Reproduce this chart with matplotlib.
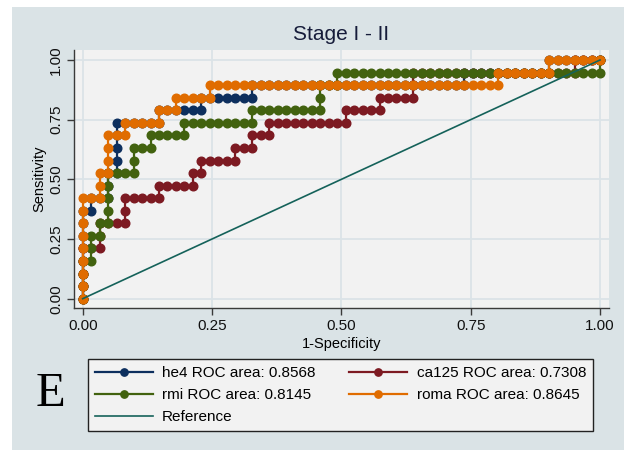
import matplotlib
matplotlib.use("Agg")
import matplotlib.pyplot as plt
from matplotlib.patches import Rectangle
import numpy as np

# ROC curves: 19 cases, 61 controls.
# Each curve is written as runs of cutoffs: "nU" = n more cases detected,
# "nR" = n more controls called positive (one point per cutoff).
n_cases = 19
n_controls = 61

markers = ["he4", "ca125", "rmi", "roma"]
auc_labels = ["0.8568", "0.7308", "0.8145", "0.8645"]
he4_runs = "7U 1R 1U 2R 2U 1R 4U 5R 1U 5R 1U 6R 1U 25R 1U 10R 1U 6R"
ca125_runs = "4U 2R 2U 3R 2U 4R 1U 4R 1U 1R 1U 4R 1U 2R 1U 2R 1U 9R 1U 4R 1U 4R 2U 19R 1U 3R"
rmi_runs = "3U 1R 2U 1R 1U 1R 4U 3R 2U 2R 1U 4R 1U 8R 1U 8R 2U 2R 1U 31R 1U"
roma_runs = "8U 2R 2U 1R 3U 2R 1U 4R 1U 2R 1U 4R 1U 34R 1U 6R 1U 6R"

ticks = [0, 0.25, 0.5, 0.75, 1.0]
tick_labels = ["0.00", "0.25", "0.50", "0.75", "1.00"]

colors = ["#0d2f5e", "#7d1a22", "#42620f", "#e06c00"]
ref_color = "#15625a"
panel_bg = "#dae3e6"
plot_bg = "#f2f2f2"
grid_color = "#dbe3e7"


def walk(runs):
    fp, tp = [0], [0]
    for tok in runs.split():
        n, d = int(tok[:-1]), tok[-1]
        for _ in range(n):
            fp.append(fp[-1] + (d == "R"))
            tp.append(tp[-1] + (d == "U"))
    return np.array(fp) / n_controls, np.array(tp) / n_cases


plt.rcParams["font.family"] = ["Liberation Sans", "DejaVu Sans"]

fig = plt.figure(figsize=(6.24, 4.5), dpi=100)
fig.patch.set_facecolor("white")
fig.add_artist(Rectangle((12 / 624, 0), 1, 1 - 7 / 450, transform=fig.transFigure,
                         facecolor=panel_bg, edgecolor="none", zorder=0))

ax = fig.add_axes([74 / 624, 1 - 307.5 / 450, 535 / 624, 257.5 / 450])
ax.set_facecolor(plot_bg)

handles = []
for name, auc, runs, c in zip(markers, auc_labels,
                              [he4_runs, ca125_runs, rmi_runs, roma_runs], colors):
    x, y = walk(runs)
    h, = ax.plot(x, y, color=c, lw=1.6, marker="o", ms=6.2, mec=c, mfc=c,
                 label=f"{name} ROC area: {auc}", zorder=3)
    handles.append(h)

ref, = ax.plot([0, 1], [0, 1], color=ref_color, lw=1.2, label="Reference", zorder=4)

ax.set_xlim(-0.0168, 1.0174)
ax.set_ylim(-0.0369, 1.0419)
ax.set_xticks(ticks)
ax.set_xticklabels(tick_labels)
ax.set_yticks(ticks)
ax.set_yticklabels(tick_labels, rotation=90, va="center")
ax.grid(True, color=grid_color, lw=1.3)
ax.set_axisbelow(True)
for s in ["top", "right"]:
    ax.spines[s].set_visible(False)
for s in ["left", "bottom"]:
    ax.spines[s].set_color("#3a3a3a")
    ax.spines[s].set_linewidth(1.0)
ax.tick_params(direction="out", length=5, width=1.0, color="#3a3a3a",
               labelsize=11, labelcolor="#111111", pad=3)

ax.set_xlabel("1-Specificity", fontsize=10.5, labelpad=3)
ax.set_ylabel("Sensitivity", fontsize=10.5, labelpad=2)

fig.text(341 / 624, 1 - 35 / 450, "Stage I - II", ha="center", va="center",
         fontsize=15, color="#161c3a")

order = [handles[0], handles[2], ref, handles[1], handles[3]]
leg = fig.legend(order, [h.get_label() for h in order], ncol=2,
                 loc="lower left", mode="expand", borderaxespad=0,
                 bbox_to_anchor=(88 / 624, 1 - 431 / 450, 505 / 624, 72 / 450),
                 bbox_transform=fig.transFigure, fontsize=11, numpoints=1,
                 markerscale=0.85, handlelength=3.8, handletextpad=0.6,
                 labelspacing=0.52, borderpad=0.45, columnspacing=1.6,
                 frameon=True, fancybox=False)
leg.get_frame().set_facecolor(plot_bg)
leg.get_frame().set_edgecolor("#222222")
leg.get_frame().set_linewidth(1.0)
leg.get_frame().set_alpha(1)

fig.text(50 / 624, 1 - 394 / 450, "E", ha="center", va="center",
         fontsize=35, family="Liberation Serif", color="black")

fig.savefig("out.png", dpi=100)
